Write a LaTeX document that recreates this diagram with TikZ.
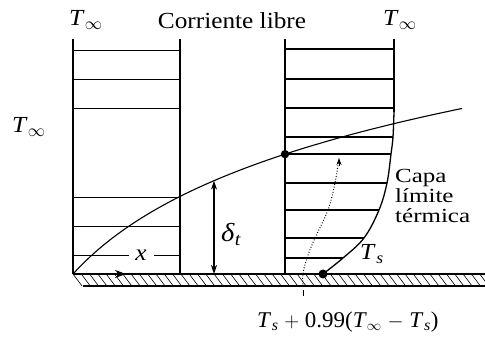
\documentclass[tikz,border=0pt]{standalone}
\usepackage{amsmath}
\usepackage{fontspec}
\setmainfont[FakeStretch=1.1]{Liberation Serif}
\newfontfamily\capafont[FakeStretch=1.25]{Liberation Serif}
\newfontfamily\formfont[FakeStretch=1.02]{Liberation Serif}
\usetikzlibrary{arrows.meta}
\newcommand\Tinf{\textit{T}$_{\infty}$}
\newcommand\Tsb{\textit{T}\kern0.5pt$_{\textit{s}}$}
\tikzset{
  prof/.style={line width=1.3pt},
  hleft/.style={line width=0.9pt},
  hright/.style={line width=1.6pt},
  plate/.style={line width=1.8pt},
  hatchln/.style={line width=0.6pt},
  lbl/.style={font=\fontsize{23}{26}\selectfont, inner sep=0pt},
  capalbl/.style={font=\capafont\fontsize{20}{20}\selectfont, inner sep=0pt, anchor=base west}
}
\begin{document}
\begin{tikzpicture}[x=1pt,y=-1pt]
\useasboundingbox (0,0) rectangle (485,339);

% plate
\coordinate (p0) at (73,274);
\coordinate (pE) at (485,274);
\coordinate (q0) at (83,286);
\coordinate (qE) at (485,286);
\foreach \x in {73,81.3,...,480} \draw[hatchln] (\x,274) -- ++(9,12);
\draw[plate] (p0) -- (pE);
\draw[plate] (q0) -- (qE);

% left profile (free stream)
\coordinate (la) at (73,39);
\coordinate (lb) at (180,39);
\coordinate (lc) at (180,274);
\draw[prof] (la) -- (p0);
\draw[prof] (lb) -- (lc);
\foreach \y in {50,79,108,197,226} \draw[hleft] (73,\y) -- (180,\y);
\coordinate (xa) at (73,255);
\coordinate (xb) at (129,255);
\coordinate (xc) at (154,255);
\coordinate (xd) at (180,255);
\draw[hleft] (xa) -- (xb);
\draw[hleft] (xc) -- (xd);
\node[lbl] (xl) at (141,255) {\textit{x}};
\coordinate (xe) at (126,274);
\draw[line width=1.2pt,-{Stealth[length=11pt,width=8pt]}] (p0) -- (xe);

% right profile
\coordinate (ra) at (285,39);
\coordinate (rb) at (285,274);
\draw[prof] (ra) -- (rb);
\coordinate (c0) at (394,39);
\coordinate (c1) at (394,112);
\coordinate (c2) at (393,137);
\coordinate (c3) at (391,154);
\coordinate (c4) at (387,183);
\coordinate (c5) at (379,210);
\coordinate (c6) at (364,238);
\coordinate (c7) at (343,258);
\coordinate (ts) at (323,274);
\draw[prof] (c0) -- (c1);
\draw[prof] plot[smooth, tension=0.6] coordinates {(c1) (c2) (c3) (c4) (c5) (c6) (c7) (ts)};
\foreach \y in {49,79,108} \draw[hright] (285,\y) -- (394,\y);
\foreach \c in {c2,c3,c4,c5,c6,c7} \draw[hright] (ra |- \c) -- (\c);

% thermal boundary layer edge: y = 274 - 99 ln(1 + (x-73)/90)
\draw[line width=1.1pt] plot[domain=0:389, samples=90] ({73+\x},{274-99*ln(1+\x/90)});
\coordinate (b4) at (214,{274-99*ln(1+141/90)});
\coordinate (b5) at (285,{274-99*ln(1+212/90)});

% delta_t
\coordinate (d0) at (214,274);
\draw[line width=1.3pt,{Stealth[length=9pt,width=6pt]}-{Stealth[length=9pt,width=6pt]}] (b4) -- (d0);
\node[font=\fontsize{26}{28}\selectfont, inner sep=0pt, anchor=base west] (dl) at (221,242) {\textit{δ}$_{\textit{t}}$};

% dotted 99% curve
\coordinate (e0) at (303,287);
\coordinate (e1) at (303,274);
\coordinate (e2) at (307,258);
\coordinate (e3) at (315,238);
\coordinate (e4) at (328,210);
\coordinate (e5) at (335,183);
\coordinate (e6) at (339,158);
\draw[line width=1pt, dash pattern=on 0.9pt off 1.8pt] plot[smooth, tension=0.6] coordinates {(e0) (e1) (e2) (e3) (e4) (e5) (e6)};
\coordinate (e7) at (339,166);
\draw[line width=0.9pt, -{Stealth[length=7pt,width=5pt]}] (e7) -- (e6);
\coordinate (t0) at (303,290);
\coordinate (t1) at (303,296);
\draw[line width=0.9pt] (t0) -- (t1);

% dots
\fill (b5) circle (4.2);
\fill (ts) circle (4.5);

% labels
\node[lbl, anchor=base west] (tinfL) at (69,26) {\Tinf};
\node[lbl, anchor=base] (corr) at (232,29) {Corriente libre};
\node[lbl, anchor=base west] (tinfR) at (383,26) {\Tinf};
\node[lbl, anchor=base west] (tinfM) at (12,133) {\Tinf};
\node[lbl, anchor=base west] (tsl) at (360,260) {\Tsb};
\node[capalbl] (capa1) at (395,183) {Capa};
\node[capalbl] (capa2) at (395,203) {límite};
\node[capalbl] (capa3) at (395,223) {térmica};
\node[font=\formfont\fontsize{22.5}{26}\selectfont, inner sep=0pt, anchor=base west] (form) at (257,327) {\Tsb{} $+$ 0.99(\Tinf{} $-$ \Tsb)};
\end{tikzpicture}
\end{document}
